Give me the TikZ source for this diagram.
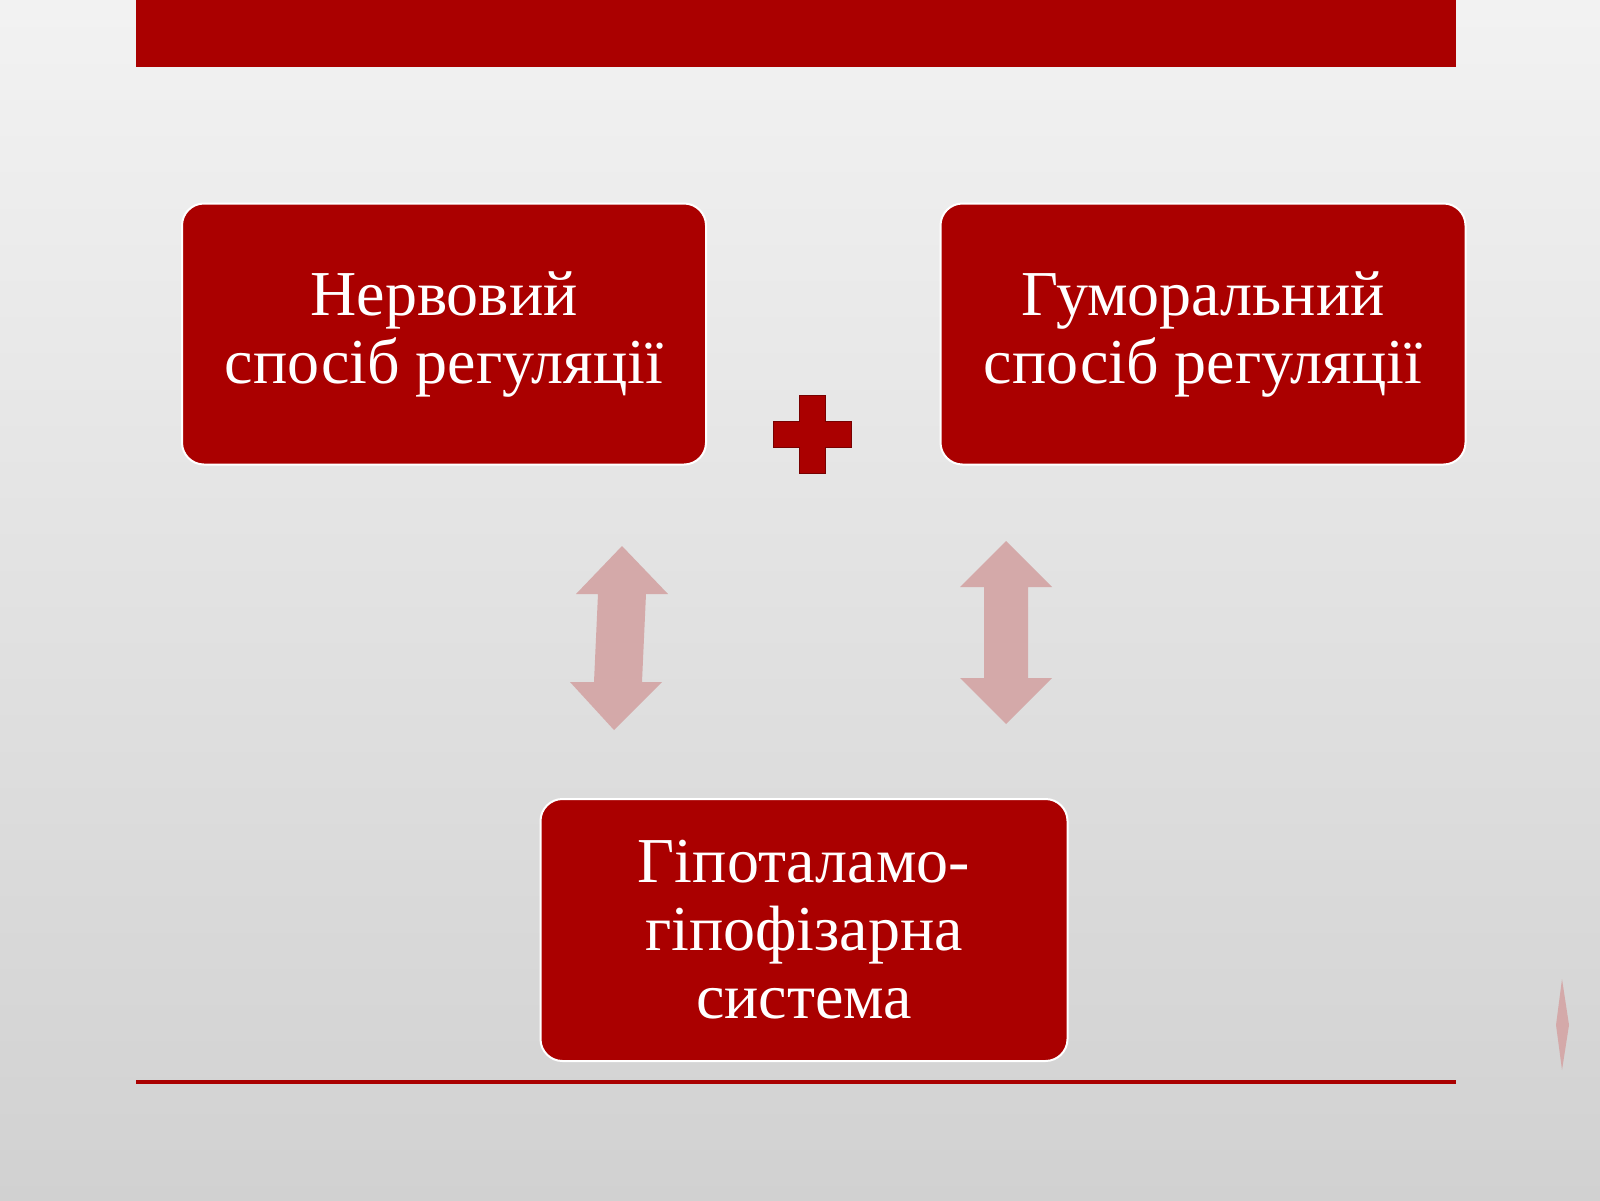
\documentclass[tikz,border=0pt]{standalone}
\usepackage{fontspec}
\setmainfont{Liberation Serif}
\begin{document}
\begin{tikzpicture}[x=1pt,y=-1pt,
  rbox/.style={draw=white,line width=2pt,fill=red1,rounded corners=22pt,text=white,align=center,
    font=\fontsize{64}{68}\selectfont,inner sep=0pt},
  darr/.style={fill=arrc}]
\definecolor{red1}{HTML}{AA0000}
\definecolor{arrc}{HTML}{D4A9A9}
\shade[top color=black!5,bottom color=black!18] (0,0) rectangle (1600,1200);
\useasboundingbox (0,0) rectangle (1600,1200);
\fill[red1] (136,0) rectangle (1456,67);
\fill[red1] (136,1080) rectangle (1456,1084);
\node[rbox,minimum width=524pt,minimum height=261pt] (n) at (444,334) {Нервовий\\спосіб регуляції};
\node[rbox,minimum width=525pt,minimum height=261pt] (h) at (1203,334) {Гуморальний\\спосіб регуляції};
\node[rbox,minimum width=527pt,minimum height=262pt] (g) at (804,930) {Гіпоталамо-\\гіпофізарна\\система};
\fill[red1,draw=red1!70!black,line width=1pt] (799,395)--(825,395)--(825,421)--(851,421)--(851,447)--(825,447)--(825,473)--(799,473)--(799,447)--(773,447)--(773,421)--(799,421)--cycle;
\fill[arrc] (622,546)--(668,594)--(646,594)--(642,682)--(662,682)--(614,730)--(570,682)--(594,682)--(598,594)--(576,594)--cycle;
\fill[arrc] (1006,541)--(1052,587)--(1028,587)--(1028,678)--(1052,678)--(1006,724)--(960,678)--(984,678)--(984,587)--(960,587)--cycle;
\fill[arrc] (1562,979)--(1569,1025)--(1562,1070)--(1556,1025)--cycle;
\end{tikzpicture}
\end{document}
